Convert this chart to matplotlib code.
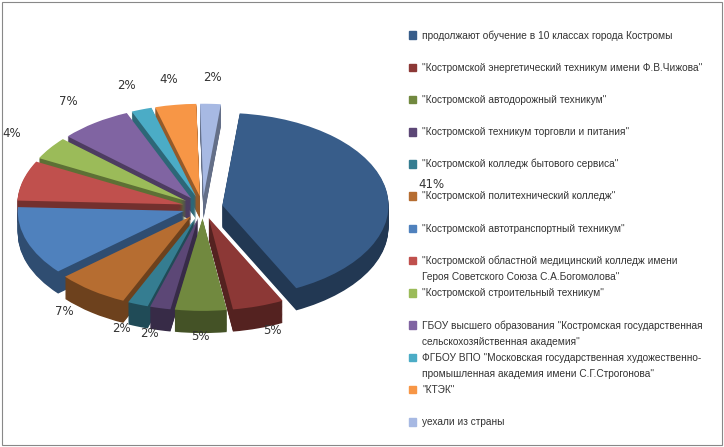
import numpy as np
import matplotlib.pyplot as plt
from matplotlib.colors import to_rgb

labels = [
    'продолжают обучение в 10 классах города Костромы',
    '"Костромской энергетический техникум имени Ф.В.Чижова"',
    '"Костромской автодорожный техникум"',
    '"Костромской техникум торговли и питания"',
    '"Костромской колледж бытового сервиса"',
    '"Костромской политехнический колледж"',
    '"Костромской автотранспортный техникум"',
    '"Костромской областной медицинский колледж имени\nГероя Советского Союза С.А.Богомолова"',
    '"Костромской строительный техникум"',
    'ГБОУ высшего образования "Костромская государственная\nсельскохозяйственная академия"',
    'ФГБОУ ВПО "Московская государственная художественно-\nпромышленная академия имени С.Г.Строгонова"',
    '"КТЭК"',
    'уехали из страны',
]
values = [41, 5, 5, 2, 2, 7, 12, 7, 4, 7, 2, 4, 2]
colors = ['#385D8A', '#8C3836', '#71893F', '#5C4776', '#357D91', '#B66D31',
          '#4F81BD', '#C0504D', '#9BBB59', '#8064A2', '#4BACC6', '#F79646', '#A7B9E3']

fig = plt.figure(figsize=(7.24, 4.47), dpi=100)
fig.patches.append(plt.Rectangle((0.003, 0.004), 0.994, 0.992, transform=fig.transFigure,
                                 fill=False, ec='#888888', lw=0.8))
ax = fig.add_axes([0.0, 0.05, 0.56, 0.9])

explode = [0.12] * len(values)
dark = [tuple(c * 0.6 for c in to_rgb(col)) for col in colors]
depth = 0.24
for k in np.linspace(depth, 0.01, 25):
    ax.pie(values, colors=dark, explode=explode, startangle=84, counterclock=False,
           center=(0, -k), wedgeprops=dict(linewidth=0))
w, t, pt = ax.pie(values, colors=colors, explode=explode, startangle=84, counterclock=False,
                  autopct='%1.0f%%', pctdistance=1.28, wedgeprops=dict(linewidth=0),
                  textprops=dict(fontsize=8.5, color='#333333'))
ax.set_aspect('auto')
ax.set_xlim(-1.22, 1.22)
ax.set_ylim(-2.35, 2.0)
ax.axis('off')

ys = np.linspace(0.925, 0.06, len(labels))
for y, lab, col in zip(ys, labels, colors):
    fig.patches.append(plt.Rectangle((0.565, y - 0.012), 0.009, 0.017, transform=fig.transFigure,
                                     color=col))
    parts = lab.split('\n')
    for i, p in enumerate(parts):
        fig.text(0.583, y - 0.004 - 0.037 * i, p, fontsize=7.3, va='center',
                 color='#333333', fontfamily='Liberation Sans')

fig.savefig('out.png')
